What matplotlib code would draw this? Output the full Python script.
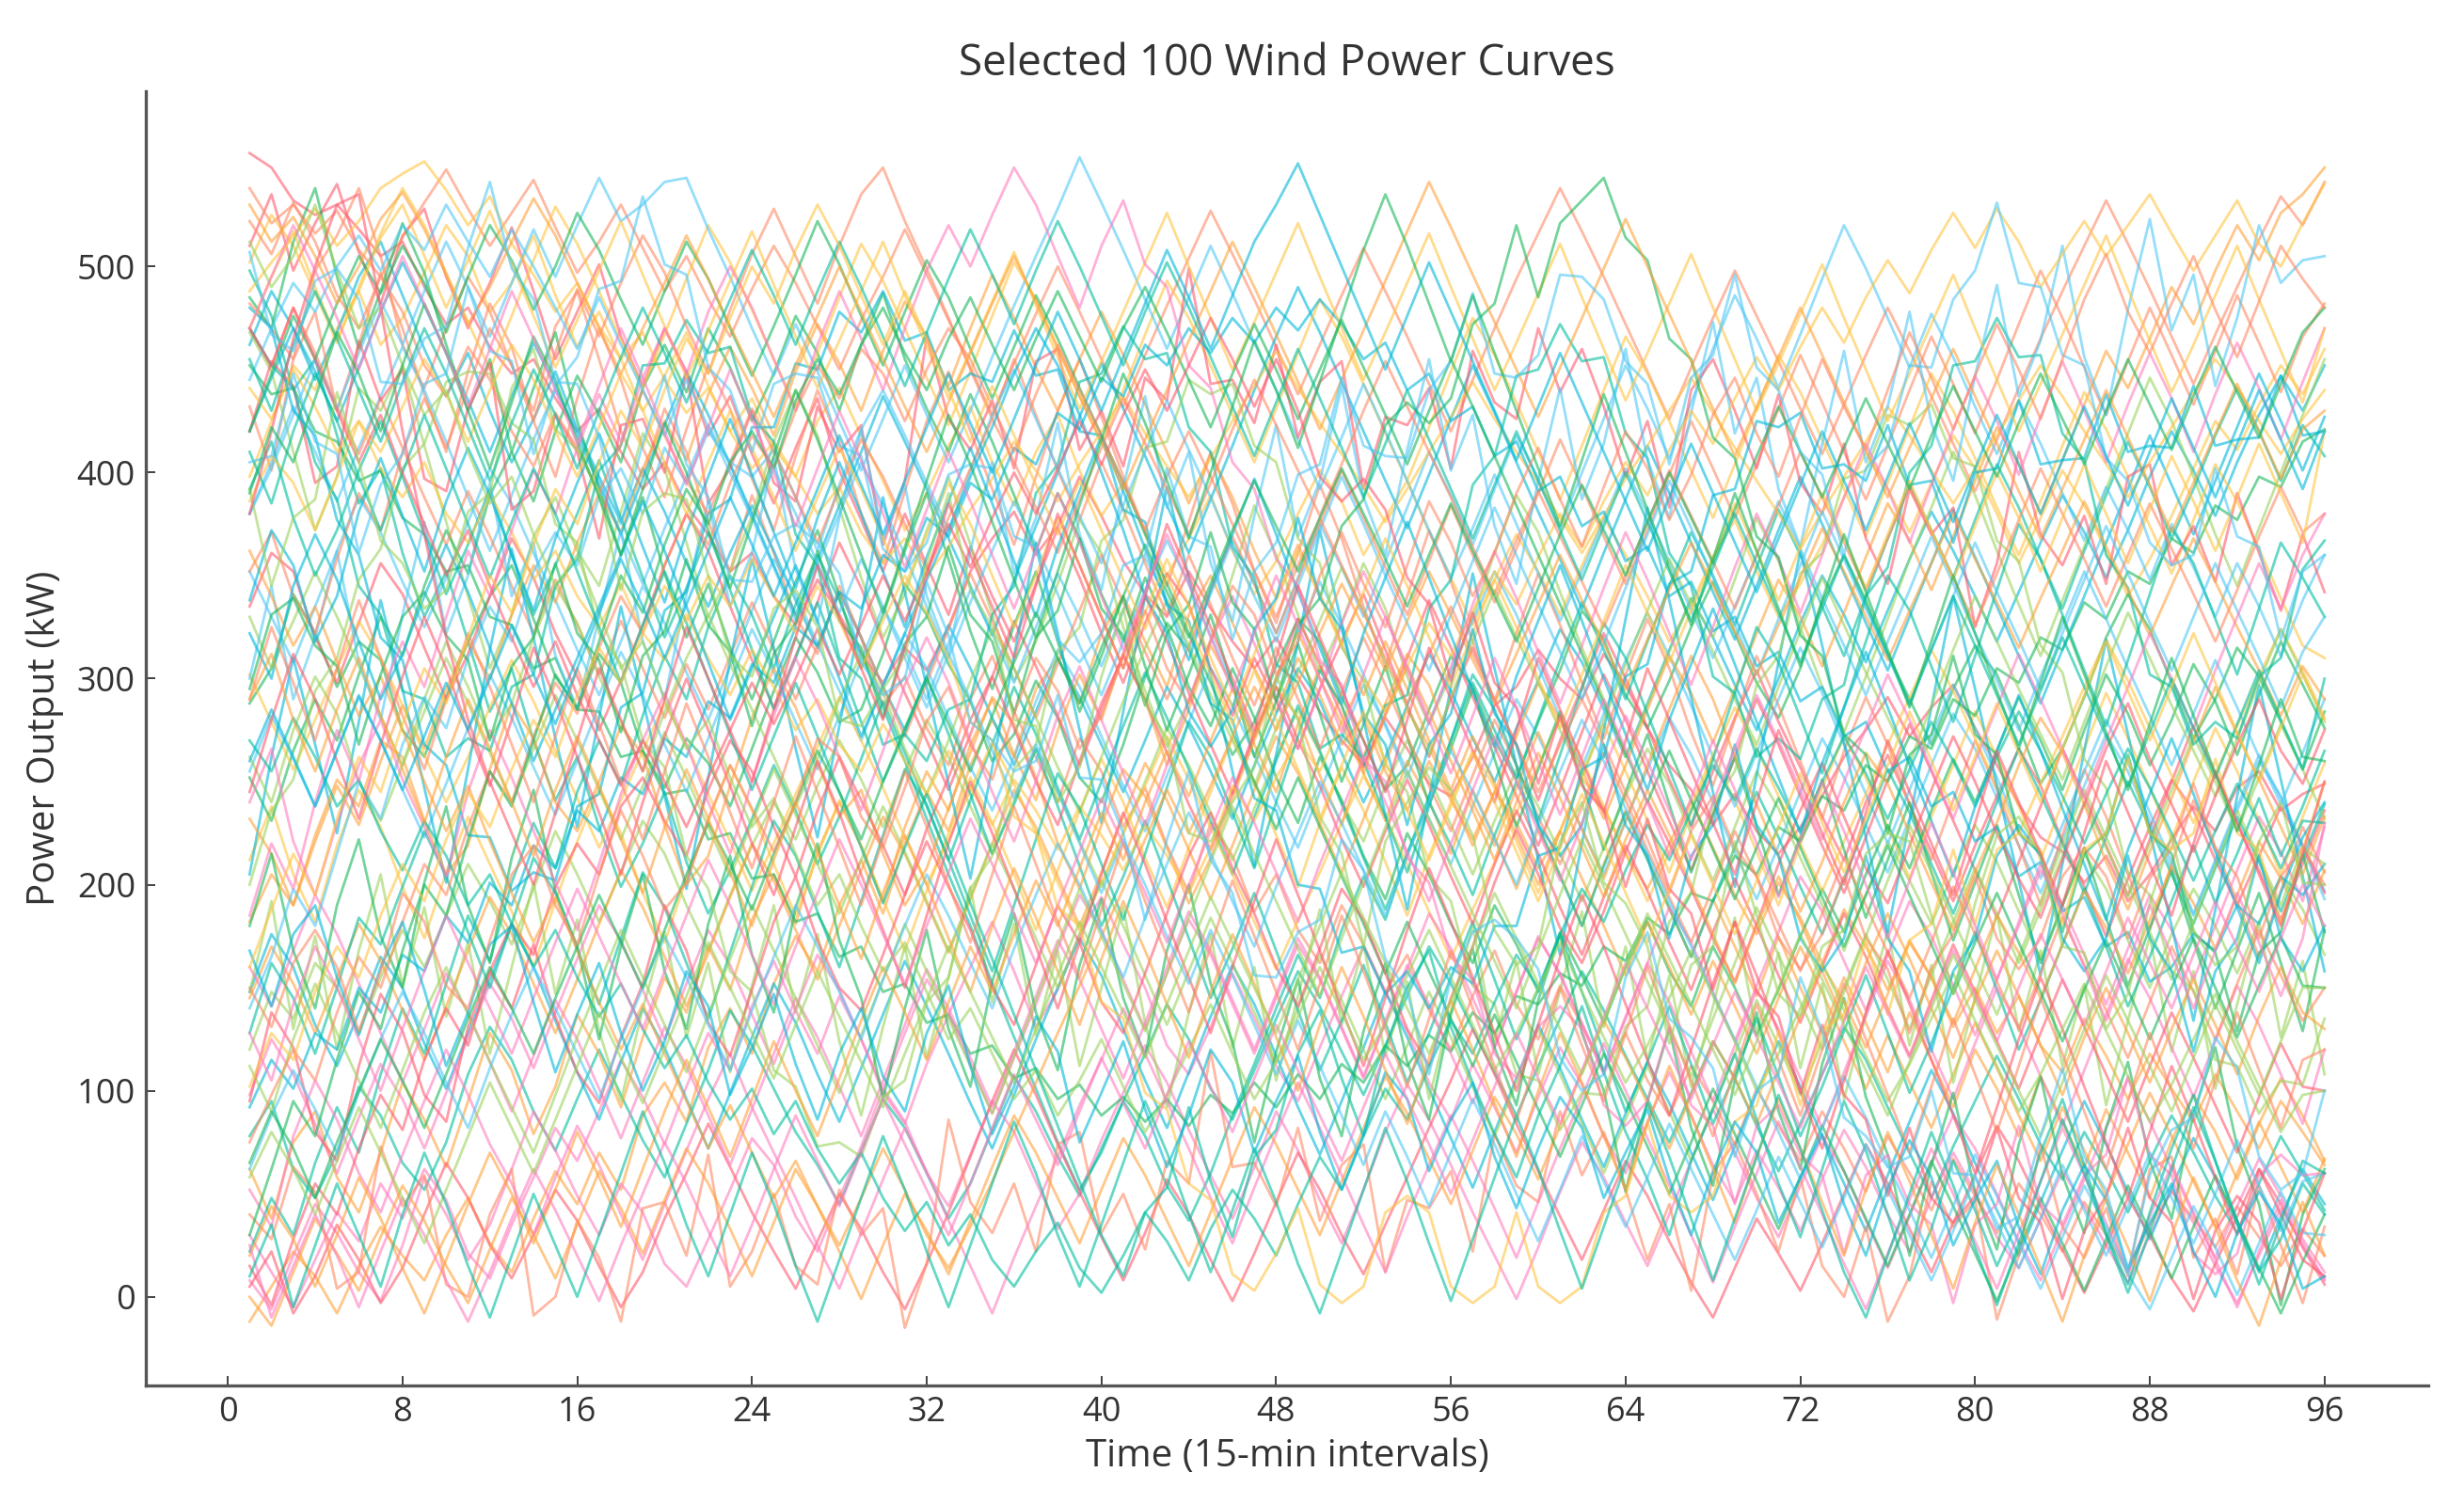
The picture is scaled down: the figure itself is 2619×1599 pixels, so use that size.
import matplotlib
matplotlib.use("Agg")
import matplotlib.pyplot as plt

plt.rcParams['font.family'] = ['Open Sans', 'DejaVu Sans']

# ---- data (kW) ----
time_steps = list(range(1, 97))
x_ticks = [0, 8, 16, 24, 32, 40, 48, 56, 64, 72, 80, 88, 96]
y_ticks = [0, 100, 200, 300, 400, 500]
title_text = "Selected 100 Wind Power Curves"
x_label = "Time (15-min intervals)"
y_label = "Power Output (kW)"

line_colors = ['#FF5A6E', '#FF8A65', '#FFA23A', '#FFC542', '#9CD35C',
               '#19B85A', '#00BFA0', '#00B8D9', '#4FC8F5', '#FF7DBE']

curves_01_10 = [
[555,548,532,525,530,518,505,512,490,472,480,461,448,455,436,420,431,410,392,405,384,370,352,361,340,326,348,331,312,298,315,304,325,352,368,381,360,374,398,379,357,341,330,352,334,318,305,320,301,284,270,258,281,266,249,243,262,287,296,314,300,290,312,297,276,258,246,229,244,226,215,228,243,262,275,291,272,286,297,276,258,239,223,216,201,214,192,205,222,238,226,247,255,236,244,249],
[482,470,455,498,515,538,505,462,441,470,495,478,452,430,471,488,455,420,398,431,410,376,352,389,361,330,312,345,320,287,301,276,258,290,311,284,262,240,271,255,228,247,219,196,230,214,187,205,178,162,190,171,148,166,139,120,146,168,142,125,151,132,110,128,105,88,112,95,74,101,83,66,90,72,51,78,60,42,67,49,31,55,40,22,46,30,12,35,51,38,24,44,29,15,33,20],
[-12,5,22,10,-8,15,34,20,8,30,48,26,12,38,61,45,70,52,88,104,85,121,140,118,152,175,158,190,212,186,220,245,226,258,280,262,295,310,288,322,340,318,296,331,350,327,305,284,310,292,268,281,255,236,260,241,222,245,230,208,226,252,237,215,198,220,241,218,195,176,201,184,162,188,170,149,172,155,131,150,128,146,122,109,135,117,96,118,101,85,108,90,72,95,80,64],
[398,425,452,440,470,488,462,475,497,520,505,478,492,515,486,461,478,455,430,447,468,442,420,436,412,398,425,441,418,396,372,390,413,432,405,384,410,428,401,379,395,372,350,368,389,362,341,357,380,401,386,360,378,396,371,349,326,348,370,352,331,355,378,360,340,318,336,359,377,352,330,346,365,388,410,392,371,395,418,402,380,356,378,401,384,362,340,358,379,402,425,411,433,452,438,460],
[120,148,135,162,150,128,155,178,160,185,210,192,171,198,226,205,182,206,231,215,190,168,195,219,240,222,248,270,251,228,255,280,262,238,215,241,266,245,221,199,225,250,276,258,235,212,237,262,285,264,240,221,248,270,252,229,205,231,256,238,215,192,218,243,266,249,225,202,228,255,237,213,190,168,195,221,202,181,206,229,211,187,164,190,215,198,173,150,176,198,180,157,182,204,188,166],
[288,305,341,322,296,318,309,275,262,291,318,340,355,329,301,286,312,298,265,247,271,259,238,266,294,320,303,279,285,312,346,331,307,289,260,273,299,281,252,240,268,301,327,314,288,263,279,306,329,318,291,270,246,258,285,311,296,270,251,279,304,333,319,292,276,299,325,347,322,298,281,305,337,360,338,312,290,268,295,316,302,277,249,266,291,320,341,324,298,271,290,315,301,279,256,284],
[78,95,62,48,70,102,88,65,52,75,108,131,115,90,71,96,120,98,76,58,84,110,139,122,101,80,64,45,71,96,82,60,38,55,81,107,90,68,49,72,95,118,142,125,101,86,110,135,158,141,119,98,122,146,170,152,130,109,88,112,135,158,139,117,96,75,99,124,106,83,61,84,108,131,115,92,70,48,73,95,117,96,74,57,80,62,41,66,88,70,49,31,55,78,60,42],
[462,488,470,445,468,495,512,486,460,437,458,430,405,426,449,421,398,376,402,381,356,335,361,384,362,338,315,342,320,296,275,301,326,305,281,258,284,310,291,268,245,270,296,277,255,232,258,283,305,289,264,240,262,287,312,294,271,250,276,299,324,308,285,262,288,314,339,320,297,275,300,327,350,331,308,333,358,381,362,340,318,342,366,389,371,349,372,398,420,401,379,405,428,447,430,452],
[352,330,308,335,362,388,371,347,325,349,376,402,385,361,338,314,292,318,345,327,303,280,306,333,358,341,317,294,270,297,322,305,281,257,236,262,289,314,296,272,248,226,253,279,305,287,263,240,218,245,271,297,278,255,232,210,238,264,290,272,249,227,205,231,256,281,263,240,216,193,219,245,271,252,229,206,232,258,283,266,242,219,196,222,248,273,255,231,208,185,211,236,260,243,219,197],
[30,12,-5,18,41,27,55,38,62,47,21,9,35,58,82,66,90,115,97,74,102,128,110,141,163,139,118,146,125,99,84,113,137,160,182,158,131,149,176,194,171,150,122,108,131,157,135,112,95,121,146,170,148,129,104,86,113,92,70,97,121,103,78,60,85,109,88,64,46,71,53,32,57,81,63,40,22,48,70,51,29,14,38,61,44,25,7,30,52,36,15,-3,20,43,26,8],
]

curves_11_20 = [
[510,535,498,521,540,507,482,515,528,495,470,492,519,488,455,478,501,466,442,470,449,418,437,409,385,412,436,401,377,352,380,355,331,364,340,318,346,373,349,322,298,327,351,336,305,282,310,289,266,295,318,341,314,287,262,290,315,289,268,241,270,296,322,300,276,251,228,255,281,304,279,257,233,212,240,263,239,216,192,219,243,266,248,221,199,175,203,228,251,236,212,190,214,238,219,196],
[432,401,455,478,430,462,497,470,438,410,449,482,461,425,398,436,470,445,412,388,421,452,431,397,372,408,440,415,380,356,391,425,449,420,392,365,398,430,455,427,398,371,345,376,410,385,352,327,361,394,368,335,306,340,372,347,318,289,322,351,326,298,271,302,329,305,274,248,280,311,287,260,232,265,291,268,239,212,241,270,246,219,190,224,256,233,205,178,210,241,218,192,165,197,228,206],
[62,38,75,90,58,41,70,104,86,63,95,128,110,79,102,137,118,92,126,155,138,170,149,183,205,181,216,240,219,192,228,255,236,268,290,263,241,275,302,280,312,290,258,285,316,297,268,245,278,306,287,254,231,260,241,215,246,223,198,227,205,180,210,236,213,188,165,193,170,146,175,150,128,155,133,109,138,115,92,120,101,78,107,85,63,91,70,48,76,98,80,57,84,106,88,66],
[212,238,205,182,219,246,228,199,174,206,233,210,187,160,192,221,247,225,196,172,203,231,258,236,210,185,214,241,219,193,168,197,225,252,230,205,178,207,236,261,240,213,189,218,245,271,250,224,199,230,257,236,211,185,214,240,265,247,221,196,226,252,278,255,231,206,235,262,241,216,190,220,247,272,252,228,203,233,258,284,262,238,212,240,266,293,271,247,222,250,276,255,231,205,233,259],
[468,449,410,372,398,441,430,452,413,376,340,305,331,369,388,362,345,381,419,402,366,330,352,379,415,440,418,383,349,320,341,372,398,365,331,299,318,346,377,361,325,294,267,289,318,350,384,360,331,303,327,356,334,301,278,302,330,361,389,371,342,315,290,262,287,313,339,320,348,378,357,325,296,274,301,329,358,383,410,389,362,336,311,338,364,392,419,446,425,398,370,345,373,400,428,455],
[252,231,265,290,270,302,330,311,345,372,351,389,410,386,420,447,428,405,441,462,439,470,451,425,448,476,458,430,462,487,455,431,410,438,415,389,362,390,368,341,318,349,325,296,277,305,281,252,230,262,241,214,193,225,205,181,162,190,171,148,177,156,133,160,182,158,141,170,150,127,149,175,198,177,205,229,208,236,261,240,265,291,270,246,275,302,283,258,280,307,289,263,292,318,297,276],
[498,476,440,455,418,385,402,361,330,352,318,284,305,270,241,262,228,199,220,245,211,186,207,232,258,236,210,233,261,289,264,238,212,241,268,296,273,247,222,250,277,303,281,256,231,205,233,260,287,265,239,213,188,215,243,270,298,275,252,280,309,337,314,290,318,345,371,350,326,354,382,360,335,311,340,368,394,372,349,377,404,383,358,334,362,389,415,393,368,392,418,441,420,396,423,408],
[148,176,160,132,112,138,165,150,123,101,128,154,181,160,134,109,86,114,140,121,96,72,99,126,152,133,108,85,111,137,163,141,118,94,72,98,125,150,174,156,130,105,82,109,136,161,142,117,92,69,95,121,148,126,101,77,53,80,106,132,111,86,63,89,114,94,70,47,73,99,124,102,78,55,32,59,85,110,89,65,42,20,46,71,95,74,51,28,53,77,58,35,13,39,62,45],
[380,405,432,410,386,412,437,461,440,415,388,362,389,416,440,421,397,370,346,373,398,423,404,378,354,328,355,380,405,384,360,335,310,337,362,386,365,341,316,292,318,343,367,346,321,297,272,298,323,347,326,302,277,252,279,304,328,352,331,306,281,257,283,309,332,311,287,262,238,264,290,315,293,268,244,220,246,272,297,276,252,227,203,229,255,280,259,235,211,186,212,238,263,242,218,193],
[8,-6,20,45,31,12,-2,25,58,40,18,35,62,90,71,49,30,55,41,16,5,28,52,77,64,39,22,48,73,101,85,60,44,69,95,80,56,33,50,76,99,122,104,81,59,38,63,90,71,47,26,52,80,103,86,64,41,20,-1,24,51,75,58,36,15,40,66,91,70,48,29,54,78,61,37,14,39,65,88,72,50,27,8,33,57,82,106,85,62,40,19,44,67,49,28,12],
]

curves_21_30 = [
[335,361,352,320,298,327,356,341,315,290,312,340,368,349,322,301,275,299,326,355,380,362,335,309,286,311,337,366,344,318,293,270,246,273,301,328,306,282,258,285,312,340,318,293,268,244,272,300,329,307,282,257,283,310,338,315,291,267,243,219,246,274,302,280,255,231,207,234,262,290,268,243,219,196,223,251,278,255,231,207,184,211,238,266,243,219,195,222,250,277,254,230,207,183,210,236],
[538,521,530,516,527,508,495,514,531,547,528,510,526,542,519,497,512,530,509,488,505,484,466,489,510,492,471,450,474,495,518,496,474,451,428,453,477,500,478,455,432,457,481,504,527,506,484,461,438,462,486,509,488,466,443,420,445,470,494,516,538,517,495,472,449,426,451,475,498,476,454,431,409,433,457,480,459,437,414,391,416,441,465,488,510,532,511,489,466,443,467,490,513,534,520,541],
[182,205,190,221,248,229,260,287,266,295,318,300,331,355,337,366,390,371,402,425,406,438,461,441,418,449,472,453,430,459,483,466,442,470,496,475,451,430,455,478,457,433,410,385,409,388,362,339,365,341,317,292,318,295,270,246,272,249,224,200,226,203,180,156,182,160,137,163,141,118,145,170,148,124,101,127,104,82,108,133,111,88,66,92,71,49,74,99,78,56,34,60,85,63,41,67],
[302,279,256,280,305,328,310,287,263,240,262,286,309,289,265,242,218,241,265,288,268,244,221,197,220,244,267,291,270,247,223,200,222,246,269,249,225,201,178,201,225,248,272,251,228,205,182,159,183,206,230,253,233,210,187,164,188,211,235,258,281,261,238,215,192,216,239,263,286,266,243,220,197,221,244,268,291,314,294,271,248,225,249,272,296,319,299,276,253,230,254,277,301,324,304,281],
[148,192,130,175,120,168,205,151,189,136,172,118,160,201,147,183,129,95,140,177,126,162,109,151,190,138,176,124,88,131,170,116,155,199,143,181,127,168,112,150,189,133,92,138,176,121,160,105,146,188,132,171,117,153,96,139,180,124,163,108,149,187,131,170,115,156,102,141,184,128,167,111,152,96,137,178,122,161,104,145,186,129,168,112,151,93,134,175,119,158,101,142,182,126,163,108],
[452,438,441,420,415,396,401,378,370,352,355,330,326,305,310,285,284,262,265,244,246,222,225,203,205,182,186,165,170,148,152,133,137,118,122,106,111,96,103,88,97,85,96,83,98,89,104,92,108,96,113,104,122,112,127,119,138,128,146,142,157,151,170,163,184,176,196,192,214,205,228,221,243,236,258,250,272,266,290,282,305,298,320,314,337,329,352,346,368,361,384,377,398,393,415,421],
[22,48,30,65,92,70,108,140,118,152,185,163,201,230,208,245,270,249,282,311,290,325,350,331,305,336,360,338,312,286,260,232,205,180,152,126,101,75,52,70,95,78,54,37,60,88,113,140,166,145,178,204,183,215,240,219,195,224,250,229,204,180,209,235,212,189,165,192,218,245,223,199,176,203,229,256,235,210,186,213,240,266,244,220,196,223,250,228,205,181,208,233,211,187,213,239],
[420,446,470,449,425,451,478,502,481,458,435,410,437,463,442,418,394,370,397,423,449,428,404,380,355,331,358,384,410,437,415,392,368,345,321,348,374,400,427,453,431,408,384,361,387,413,440,466,490,468,444,420,396,373,399,426,452,429,405,381,358,334,361,387,413,390,366,342,319,345,372,398,375,351,327,304,330,356,382,359,335,311,288,314,340,366,392,418,394,370,396,422,448,425,401,427],
[255,282,261,238,265,291,270,246,223,249,276,302,281,257,234,260,287,313,292,268,245,271,298,324,303,279,256,282,309,335,314,290,317,343,322,298,325,351,330,306,333,359,338,314,341,367,346,322,349,375,354,330,357,383,410,389,365,392,418,397,373,400,426,452,431,407,434,460,486,465,441,467,494,520,499,475,451,477,456,432,409,435,414,390,367,393,372,348,375,354,330,356,335,311,338,360],
[98,125,108,84,60,87,113,96,72,99,126,152,135,111,138,164,190,173,149,125,152,178,161,137,113,140,166,149,125,101,128,154,137,113,89,116,142,169,195,178,154,130,157,183,166,142,118,145,171,154,130,106,133,159,186,169,145,121,148,174,157,133,109,136,162,189,172,148,124,151,177,204,187,163,139,166,192,175,151,127,154,180,207,190,166,142,169,195,178,154,180,207,233,216,192,228],
]

curves_31_40 = [
[5,22,-8,10,35,18,-3,14,40,65,48,25,9,30,52,37,15,-5,12,38,60,84,63,41,22,4,27,50,33,12,-6,16,41,68,95,120,98,74,51,29,8,31,57,40,18,-2,21,46,70,52,30,11,35,58,82,105,130,108,84,61,39,18,42,66,49,27,7,-10,14,38,21,3,26,50,74,55,33,12,36,59,83,66,44,23,2,25,48,30,9,-7,16,39,62,45,24,6],
[470,451,480,458,432,409,436,412,388,365,391,369,345,322,348,326,302,328,305,281,307,285,311,337,314,290,316,342,320,296,272,298,324,351,328,305,281,307,333,360,337,313,290,316,343,369,346,322,348,375,401,378,354,331,357,384,360,337,363,390,416,393,369,346,372,399,425,402,378,404,431,457,434,410,387,413,440,466,443,419,445,472,498,475,451,428,454,480,457,433,459,486,463,439,466,482],
[145,170,152,128,155,181,163,139,115,141,168,194,176,152,128,154,181,207,189,165,141,167,194,220,202,178,154,180,207,233,215,191,167,193,220,246,228,204,180,206,233,259,241,217,193,219,246,272,254,230,206,232,259,285,267,243,219,245,272,298,280,256,232,258,285,311,293,269,295,322,348,330,306,332,359,385,367,343,369,396,422,404,380,406,433,459,441,465,490,472,498,520,503,526,535,548],
[502,525,510,487,463,490,516,538,520,497,473,450,476,503,529,511,488,464,441,467,494,520,502,479,455,432,458,485,511,493,470,446,423,449,476,502,484,461,437,414,440,467,493,475,452,428,405,431,458,484,466,443,419,396,422,449,475,457,434,410,387,413,440,466,448,425,401,378,404,431,457,439,416,392,369,395,422,448,430,407,383,360,386,413,439,421,398,374,351,377,404,386,363,339,316,310],
[330,305,328,352,330,306,282,258,284,310,288,264,240,266,292,270,246,222,248,274,252,228,204,230,256,234,210,186,212,238,216,192,168,194,220,198,174,150,176,202,180,156,132,158,184,162,138,114,140,166,144,120,96,122,148,126,102,78,104,130,108,84,60,86,112,90,66,92,118,144,122,98,124,150,176,154,130,156,182,208,186,162,188,214,240,218,194,220,246,272,250,226,252,278,256,232],
[485,470,512,538,495,460,488,521,497,462,430,455,410,441,468,425,392,360,388,351,320,346,315,290,318,347,372,340,305,331,362,390,358,323,295,326,352,318,284,311,340,306,275,302,331,297,262,289,317,283,250,278,306,272,239,266,295,261,228,256,284,250,217,245,273,239,206,234,262,228,195,223,251,217,184,212,240,206,173,201,229,195,162,190,218,184,151,179,207,173,140,168,196,162,129,178],
[392,415,378,350,372,401,425,398,370,341,365,392,360,331,355,380,406,378,349,320,344,371,343,314,285,310,337,308,279,250,274,301,273,244,215,239,266,238,209,180,204,231,203,174,145,169,196,168,139,110,134,161,133,104,128,155,182,154,125,149,176,148,119,90,114,141,113,84,108,135,107,78,102,129,156,128,99,123,150,177,149,120,144,171,198,170,141,165,192,219,191,215,242,214,238,265],
[205,262,310,268,225,279,338,295,247,201,256,314,363,320,271,228,281,335,290,243,198,252,309,358,315,266,223,277,331,388,342,296,249,203,257,311,366,322,275,230,284,340,393,349,302,255,209,263,318,372,327,280,234,188,242,296,351,305,258,212,166,220,275,329,383,338,291,245,199,253,308,362,316,269,223,177,231,286,340,295,248,202,156,210,265,319,273,226,180,134,188,243,297,251,204,158],
[380,402,428,455,431,458,483,462,488,512,490,466,492,518,495,520,543,522,530,541,543,518,495,470,447,472,449,425,401,426,452,428,405,430,456,481,505,528,553,531,508,484,460,485,510,487,463,440,416,392,417,443,420,396,372,349,373,399,375,351,328,352,377,402,380,357,333,310,335,360,386,363,339,316,292,318,343,369,346,322,299,275,301,326,352,329,305,282,258,283,309,286,262,239,264,290],
[160,141,168,195,176,152,128,104,130,157,138,114,90,117,144,125,101,77,104,131,112,88,64,91,118,145,126,102,78,105,132,159,140,116,92,119,146,173,154,130,106,133,160,187,168,144,120,147,174,155,131,107,134,161,142,118,94,121,148,175,156,132,108,135,162,143,119,95,122,149,130,106,82,109,136,163,144,120,96,123,150,131,107,83,110,137,164,145,121,97,124,151,132,108,84,120],
]

curves_41_50 = [
[420,454,442,395,403,464,435,450,397,391,431,453,382,391,428,410,368,423,426,400,449,385,402,430,395,386,432,410,423,365,396,466,426,411,435,402,454,460,411,430,403,446,435,499,443,445,424,462,417,444,454,392,427,423,441,402,459,434,426,470,439,460,432,398,425,383,440,455,430,402,438,395,380,414,368,346,392,370,383,325,356,410,370,355,379,346,398,404,355,374,347,390,361,333,370,342],
[40,28,63,51,4,12,73,44,59,6,0,40,62,-9,0,37,19,-12,43,46,20,69,5,22,50,15,6,52,30,43,-15,16,86,46,31,55,22,74,80,31,50,23,66,55,119,63,65,44,82,37,64,74,12,47,43,61,22,79,54,46,90,59,80,52,18,45,3,60,75,50,22,58,15,0,34,-12,10,56,34,47,-11,20,74,34,19,43,10,62,68,19,38,11,54,25,-3,34],
[232,215,190,224,251,238,270,262,231,205,219,256,288,271,240,226,250,277,263,229,200,214,248,281,305,286,259,233,246,215,190,208,237,264,291,278,252,220,198,229,256,243,218,191,213,242,270,296,281,253,229,262,288,312,297,268,240,219,247,274,250,227,203,231,258,285,311,290,262,239,214,187,211,240,264,249,225,201,178,206,230,258,281,264,239,211,188,216,242,270,296,273,251,228,205,233],
[488,502,515,528,510,522,538,545,551,537,520,534,511,496,478,492,471,455,468,445,429,441,420,402,415,398,380,393,371,356,368,350,364,382,397,415,401,386,404,420,437,419,403,388,407,425,442,459,441,424,409,393,376,392,410,427,444,426,410,395,378,361,379,397,413,430,446,429,412,396,380,363,381,398,415,432,418,401,385,402,418,435,452,437,420,404,388,405,422,439,455,441,425,409,426,440],
[262,240,275,301,283,250,231,258,290,318,296,271,288,320,345,327,301,279,255,284,310,331,307,285,262,238,261,290,312,293,266,244,270,299,324,305,281,257,235,262,289,315,338,316,292,270,248,276,303,328,354,333,308,286,263,291,318,343,320,298,275,253,280,307,333,358,336,313,290,268,296,323,349,326,303,281,259,287,314,340,318,295,273,251,279,306,332,310,287,265,243,271,298,324,302,279],
[180,215,168,140,190,222,175,150,201,238,190,162,213,246,197,170,125,170,205,158,130,181,214,166,138,189,220,173,145,96,140,178,130,102,153,186,138,110,161,193,145,117,168,200,152,124,75,119,154,106,78,129,162,114,86,137,169,121,93,144,176,128,100,51,95,130,82,54,105,138,90,62,113,145,97,69,20,64,99,51,23,74,107,59,31,82,114,66,38,89,121,73,45,-4,40,62],
[470,452,441,405,387,345,331,294,290,262,271,265,296,302,345,358,401,413,452,453,474,458,461,427,415,370,355,310,300,268,273,260,285,290,331,345,390,404,444,448,471,455,458,422,410,364,349,307,298,266,273,261,287,292,334,348,394,408,447,450,472,454,456,419,407,361,345,301,293,262,271,261,290,297,340,354,400,413,452,454,475,456,457,419,406,360,344,302,296,268,279,271,301,310,353,367],
[92,115,101,128,120,150,138,166,158,185,172,201,190,219,208,236,226,252,244,271,262,289,281,307,298,325,316,342,334,360,352,378,369,395,387,412,404,429,421,446,437,462,452,470,458,475,463,480,469,484,472,455,463,440,448,425,432,408,415,391,398,374,381,357,364,340,347,323,330,306,313,289,296,272,279,255,262,238,245,221,228,204,211,187,194,170,177,153,160,176,168,190,181,204,195,210],
[300,345,290,320,362,308,280,331,376,322,350,395,340,366,311,285,330,372,318,290,341,386,335,361,407,353,327,378,421,368,394,340,312,362,405,351,378,424,370,343,393,437,383,410,356,328,379,423,369,396,442,388,360,411,455,401,428,374,346,396,441,387,414,460,406,378,429,473,419,446,392,364,414,459,405,432,478,424,396,447,491,437,464,510,456,428,479,523,469,496,442,475,520,492,503,505],
[52,34,78,105,86,60,41,69,95,120,98,74,55,30,58,83,64,40,18,45,71,96,118,92,70,48,25,4,31,57,82,61,37,15,-8,19,44,68,93,115,140,118,95,72,48,26,53,79,104,82,59,35,12,39,64,88,66,43,19,46,72,97,123,100,77,54,30,7,34,60,85,63,40,16,-6,21,47,72,50,27,4,31,56,82,59,36,12,39,64,41,18,-5,22,47,24,9],
]

curves_51_60 = [
[15,-4,28,55,40,72,98,81,115,140,122,158,181,166,199,220,205,238,252,231,214,246,270,255,228,204,236,262,241,219,195,227,252,280,301,276,250,229,260,288,311,290,264,239,217,245,274,296,270,248,222,199,226,251,229,204,181,210,236,215,189,166,194,219,197,172,149,177,203,180,156,133,160,186,165,140,117,144,171,148,124,101,128,154,131,108,85,112,138,116,93,70,97,123,102,100],
[352,371,340,322,358,390,372,410,436,412,441,470,452,425,458,489,466,492,515,497,471,448,479,506,528,505,482,510,535,548,522,499,475,450,426,455,428,401,377,405,382,356,331,360,336,310,287,315,290,266,293,320,297,272,248,226,253,280,258,233,210,238,264,241,217,194,172,199,226,204,181,158,186,213,190,167,145,172,199,176,153,130,157,184,161,139,116,143,170,148,125,152,178,156,134,150],
[0,-14,12,38,21,3,29,54,37,15,-3,23,48,30,9,35,61,43,21,47,72,55,33,10,36,62,44,22,-1,25,50,32,11,37,63,88,70,48,26,52,77,59,37,15,41,67,92,74,52,30,56,82,107,89,67,45,71,97,79,57,83,109,134,116,94,72,98,124,106,84,110,136,161,143,121,147,173,155,133,159,185,167,145,171,197,179,157,183,209,191,169,195,221,203,181,207],
[441,426,450,432,410,425,402,388,405,380,366,389,371,348,362,340,325,346,322,309,331,310,292,314,296,275,290,268,255,278,260,244,265,247,229,251,236,217,238,224,207,229,214,196,218,248,231,252,270,255,279,300,284,306,327,311,333,352,336,359,380,364,386,405,389,411,430,414,436,456,440,461,480,463,485,503,487,508,526,509,528,512,490,506,522,505,520,535,516,498,515,532,511,500,521,540],
[200,236,251,294,310,348,363,402,414,444,449,448,424,416,375,366,322,307,270,257,214,198,158,148,110,102,73,75,68,97,105,143,155,198,214,256,268,313,325,367,377,412,415,445,438,443,413,405,368,356,315,299,258,245,204,192,151,142,108,105,81,99,98,131,141,182,196,239,255,297,311,351,361,397,401,428,423,433,407,403,367,357,316,303,261,247,206,195,158,149,115,112,89,105,103,135],
[420,448,476,455,482,505,487,510,492,468,495,520,503,479,500,526,508,484,462,488,512,494,470,447,471,496,522,501,476,452,478,503,485,460,436,461,486,465,441,418,395,370,346,322,298,274,250,227,252,228,204,181,157,182,158,135,112,137,114,91,68,93,118,96,73,50,75,101,79,56,33,58,83,61,38,15,40,66,44,21,-2,23,48,26,3,28,54,32,9,34,59,37,14,-8,17,40],
[128,162,145,118,150,184,171,199,226,204,177,150,181,213,196,169,142,174,206,189,162,135,167,199,231,214,187,160,192,224,256,239,212,185,158,190,222,254,237,210,183,215,247,279,262,235,208,240,272,304,287,260,233,206,238,270,302,285,258,231,263,295,327,310,283,256,229,261,293,325,308,281,254,286,318,350,333,306,279,311,343,375,358,331,304,277,309,341,373,356,329,302,334,366,349,330],
[480,470,430,418,377,360,320,309,268,258,224,223,197,206,202,238,244,286,293,333,342,380,387,422,422,453,450,478,468,488,464,468,440,448,444,469,447,450,420,418,382,376,336,328,288,280,242,236,200,198,167,170,147,158,140,160,152,180,180,214,218,256,262,301,307,346,352,389,392,425,422,429,402,404,396,423,394,396,366,400,402,435,404,406,407,438,410,413,412,442,413,416,417,447,418,420],
[140,165,198,180,215,250,232,268,291,276,310,335,318,352,371,355,388,402,380,412,395,420,405,398,411,388,362,394,421,440,418,395,372,401,428,450,426,402,379,356,384,410,435,411,388,363,340,318,345,372,398,375,350,327,304,331,357,383,360,336,313,290,317,344,370,396,373,349,326,302,329,355,381,358,334,311,287,314,340,366,342,319,295,322,348,374,351,327,304,330,356,333,310,286,313,330],
[240,266,221,195,230,258,280,251,228,204,245,275,252,226,201,178,210,244,270,293,268,240,215,250,282,310,288,262,236,265,297,320,298,270,245,221,250,282,306,280,254,229,258,290,318,340,317,291,266,295,327,352,330,304,278,306,336,362,339,313,288,316,344,371,348,322,297,325,354,380,358,332,360,388,414,392,366,394,421,447,425,399,427,454,430,405,433,458,436,410,438,463,441,416,444,470],
]

curves_61_70 = [
[95,138,121,80,66,112,147,129,98,85,131,158,140,171,136,109,94,126,152,190,168,133,117,149,182,204,173,150,139,166,195,221,199,178,150,132,161,190,172,143,128,157,186,214,235,208,186,160,141,169,198,183,157,130,112,145,170,201,227,205,179,162,187,216,241,220,198,174,153,181,210,236,259,233,208,191,219,246,272,250,225,203,184,212,239,266,288,261,239,216,243,268,290,265,249,275],
[522,506,531,512,486,470,495,478,452,437,461,445,420,403,429,412,390,414,440,418,396,380,405,431,410,388,366,392,416,398,375,353,378,402,426,405,383,361,387,412,436,414,392,370,395,421,445,423,401,379,404,430,454,432,410,388,364,341,367,391,369,347,325,350,376,401,379,357,334,360,384,410,388,366,343,368,393,371,349,326,351,377,402,380,358,335,360,385,363,341,318,343,369,393,371,380],
[362,340,316,335,308,282,301,275,250,226,248,221,196,172,194,168,143,120,142,118,95,72,93,70,48,66,44,25,48,72,52,30,14,34,56,80,104,128,151,175,198,222,246,225,248,272,296,275,298,322,346,325,304,328,352,331,309,288,312,336,360,338,317,295,319,343,366,345,323,302,326,349,373,352,330,309,333,356,380,358,337,315,339,362,386,364,343,321,345,368,347,325,304,282,306,290],
[470,495,517,490,465,488,514,530,505,480,503,527,501,476,451,474,498,522,496,471,446,469,493,517,491,466,441,464,488,512,486,461,436,459,483,507,481,456,431,454,478,502,526,500,475,450,473,497,521,495,470,445,468,492,516,490,465,440,463,487,511,485,460,435,458,482,506,480,455,430,453,477,501,475,450,425,448,472,496,470,445,420,443,467,491,515,489,464,439,462,486,510,484,459,434,470],
[112,90,125,152,128,105,82,110,138,160,137,114,92,70,98,126,152,178,155,132,109,137,164,190,168,145,122,99,127,154,181,158,135,112,89,117,144,171,198,175,152,129,157,184,211,238,215,192,169,146,174,201,228,255,232,209,186,163,140,168,195,222,199,176,153,130,107,135,162,189,166,143,120,148,175,202,229,206,183,160,137,165,192,219,246,223,200,177,154,182,209,236,213,190,218,210],
[295,331,339,316,306,268,302,330,342,321,309,270,306,320,356,322,309,274,311,323,358,326,313,277,312,327,362,328,315,281,317,330,364,331,318,283,320,333,368,334,321,287,322,336,371,337,324,289,326,339,374,387,423,434,424,436,472,482,520,485,521,532,543,514,503,465,455,417,407,369,359,321,311,273,263,225,263,273,311,273,263,225,215,177,215,225,263,225,215,177,167,129,167,177,215,177],
[270,255,281,262,238,251,226,207,231,214,190,205,181,160,178,155,136,152,130,111,127,104,86,101,79,95,72,55,70,48,32,46,25,40,18,5,22,36,14,2,20,41,27,8,33,52,38,20,45,68,52,78,101,86,112,134,118,143,166,150,176,198,182,207,229,212,236,258,241,266,247,226,250,272,254,232,256,279,260,238,262,284,265,243,220,244,266,247,225,202,226,249,230,208,231,230],
[338,372,355,318,340,381,407,379,352,386,412,389,360,333,368,395,419,392,364,337,371,398,426,399,371,344,378,405,380,352,325,359,386,412,385,357,330,364,391,418,391,363,336,309,343,370,397,370,342,315,288,322,349,376,349,321,294,267,301,328,355,328,300,273,246,280,307,334,307,279,252,225,259,286,313,286,258,231,204,238,265,292,265,237,210,183,217,244,271,244,216,189,162,196,223,240],
[62,88,110,91,70,99,125,148,128,104,82,111,137,160,140,118,96,125,150,175,155,132,110,139,165,190,170,148,125,154,180,205,185,162,140,169,195,220,200,177,155,184,210,235,215,192,170,199,225,250,230,207,185,214,240,265,245,222,200,229,255,280,260,237,215,192,170,147,125,102,80,57,82,107,87,64,42,19,44,69,49,26,4,29,54,34,11,-6,19,44,24,1,26,51,31,30],
[185,220,198,240,275,250,292,318,296,330,362,340,372,401,380,412,438,415,446,470,448,478,500,480,455,430,462,488,465,440,470,498,520,500,525,548,530,505,480,510,532,501,490,452,441,405,392,358,345,309,297,261,250,213,201,165,154,118,106,131,141,130,93,83,95,131,93,83,45,83,93,69,59,21,59,69,45,35,-3,35,45,83,45,35,59,69,107,69,59,21,11,21,59,69,59,60],
]

curves_71_80 = [
[245,280,312,290,260,232,268,301,330,305,275,248,280,315,290,262,235,205,240,272,300,275,248,220,195,228,260,235,205,178,150,185,220,250,225,198,170,140,172,205,235,210,182,155,128,160,192,222,195,168,140,112,145,178,208,182,155,128,100,132,165,195,170,142,115,88,120,152,182,156,128,100,72,105,138,168,142,115,88,60,92,125,155,130,102,75,48,80,112,86,58,30,62,40,18,10],
[75,98,120,105,138,165,150,182,210,195,228,255,240,272,298,283,315,340,322,355,380,365,395,418,402,430,452,436,460,448,425,450,470,455,432,410,438,462,440,418,395,372,398,420,398,375,352,330,355,378,355,332,310,288,312,335,312,290,268,245,268,290,268,245,222,196,226,243,218,204,174,159,176,204,174,159,128,159,176,204,174,159,174,204,218,204,174,203,218,249,218,204,174,204,218,200],
[20,44,28,5,30,58,38,14,-8,18,45,70,50,26,52,80,58,34,62,90,115,92,68,96,124,100,78,106,134,160,138,115,143,170,148,176,202,180,208,235,212,240,265,243,270,295,272,300,322,300,278,254,282,306,284,260,236,212,240,264,242,218,194,222,246,224,200,176,152,180,204,182,158,134,162,186,164,140,116,144,168,146,122,98,126,150,128,104,130,154,132,108,136,160,138,130],
[386,408,395,372,398,425,410,432,455,438,415,440,462,445,420,398,422,448,430,405,380,405,430,412,388,362,388,412,392,368,345,370,395,375,350,325,350,378,355,330,305,332,358,335,310,286,312,338,362,340,316,342,368,345,320,296,322,348,325,300,276,302,328,355,332,308,333,358,385,362,338,364,390,368,344,370,396,372,348,374,400,378,352,378,404,380,356,382,408,386,362,388,414,390,366,420],
[512,490,505,530,498,470,480,452,428,440,410,385,398,370,345,360,332,305,318,290,266,280,252,228,242,215,190,205,180,158,172,148,125,140,118,96,110,88,105,125,102,80,98,120,142,118,96,114,136,160,138,115,132,156,178,155,132,110,128,150,172,148,126,104,122,145,168,146,124,100,118,140,162,139,117,95,113,135,157,134,112,90,108,130,152,129,107,85,103,125,147,124,102,80,98,100],
[30,62,95,78,115,148,130,168,200,185,222,255,238,270,302,285,318,350,332,365,392,375,405,420,402,435,455,438,462,480,458,440,465,485,462,440,465,488,466,444,470,490,468,445,422,448,472,450,426,450,474,451,428,404,430,455,432,408,384,360,336,312,288,264,240,265,241,217,193,218,242,218,194,170,195,219,195,171,147,172,196,172,148,124,149,173,149,125,150,174,150,126,151,175,151,150],
[410,385,420,448,425,398,372,400,428,402,375,349,376,402,380,352,325,298,326,352,327,300,273,246,272,298,272,245,218,191,218,244,218,191,164,137,110,83,56,30,10,41,53,92,56,29,68,81,118,139,106,78,121,150,168,131,104,79,58,88,112,141,109,80,57,30,66,91,118,86,55,29,62,95,71,40,8,33,66,42,15,38,70,96,64,31,6,41,72,98,66,37,12,28,55,40],
[322,300,345,370,348,318,290,312,340,365,342,315,288,260,285,310,335,360,386,362,335,308,280,305,330,355,328,300,272,296,322,348,372,398,422,448,470,452,428,400,372,340,322,284,267,285,324,339,378,339,324,283,268,229,268,283,324,283,268,229,214,229,268,229,214,174,214,229,268,229,214,174,158,174,214,174,158,119,158,174,214,229,214,174,158,174,214,174,158,119,158,174,214,174,158,180],
[445,470,492,478,500,515,498,520,508,530,512,495,518,500,480,460,485,462,440,418,445,422,400,378,402,380,356,332,358,335,310,286,312,290,265,242,268,245,220,196,222,200,175,152,178,156,132,108,134,112,88,64,90,68,44,70,96,74,50,27,52,78,56,34,58,84,62,40,18,42,68,46,24,48,74,52,30,8,32,58,36,14,38,64,42,20,44,70,48,26,50,76,54,32,56,60],
[128,105,142,170,150,125,100,130,158,185,162,140,118,145,172,198,175,152,130,158,185,212,190,166,142,170,196,222,200,176,152,180,206,232,210,186,162,190,216,242,220,196,172,200,226,252,230,206,182,210,236,262,240,216,192,220,246,272,250,226,202,230,256,282,260,236,212,240,266,292,270,246,222,250,276,302,280,256,232,260,286,312,290,266,242,270,296,322,300,276,304,330,356,334,360,380],
]

curves_81_90 = [
[470,452,480,455,430,405,428,400,375,350,372,345,320,296,318,292,270,248,270,250,228,252,275,298,278,300,324,302,326,350,328,352,375,354,378,400,380,402,425,404,428,450,430,452,475,455,432,455,430,398,386,397,382,349,336,299,332,298,286,249,282,248,236,199,232,198,186,149,182,148,136,99,132,98,86,49,82,48,36,49,82,48,36,-1,32,49,82,48,36,-1,32,49,36,-1,32,60],
[290,325,298,270,305,338,310,282,256,290,322,296,268,240,272,305,278,250,222,255,288,262,235,208,240,272,245,218,190,222,255,228,200,172,205,238,210,182,155,188,220,192,165,138,170,202,175,148,120,152,185,158,130,102,135,168,140,112,85,118,150,122,95,128,160,132,105,78,110,142,115,88,120,152,125,98,70,102,135,108,80,112,145,118,90,62,95,128,100,72,105,138,110,82,115,120],
[530,512,524,505,482,500,523,536,518,496,472,490,512,533,515,492,470,448,470,492,515,494,471,449,427,452,476,500,478,455,432,410,434,458,482,505,483,460,437,415,392,416,440,464,488,512,490,467,444,421,445,469,493,517,541,519,496,473,450,427,451,475,499,523,500,477,454,431,408,432,456,480,457,434,411,388,412,436,460,437,414,391,368,392,416,440,417,394,371,395,419,443,420,397,421,430],
[102,128,115,148,170,155,185,210,192,222,245,228,256,280,262,292,315,298,322,345,328,350,335,358,340,322,345,328,305,328,350,332,310,279,270,233,225,189,180,143,135,99,91,55,47,11,3,21,43,6,-3,5,41,49,41,5,-3,5,41,5,-3,5,41,49,85,49,41,49,85,93,129,93,129,137,173,137,173,181,217,181,217,225,217,181,217,225,261,225,217,225,261,225,217,181,217,250],
[392,345,378,387,439,405,367,356,334,343,381,390,441,460,421,411,390,343,381,390,387,350,311,301,334,343,325,280,277,295,311,356,390,343,325,280,277,240,257,301,334,288,271,225,221,240,257,301,280,233,215,170,221,240,257,246,224,178,161,170,221,240,201,191,170,123,161,170,221,185,147,136,170,178,215,225,221,185,147,191,224,233,215,170,167,130,147,191,224,178,161,170,221,240,201,200],
[65,90,72,48,75,100,125,105,82,108,135,160,140,118,145,170,195,172,150,178,205,230,210,188,215,240,265,245,222,250,276,300,278,255,282,308,332,310,288,315,340,365,342,320,346,372,396,374,352,378,402,380,358,335,360,385,362,340,318,344,370,394,372,350,376,400,378,356,382,408,432,410,388,412,436,414,392,418,442,420,398,424,448,426,404,430,455,433,411,437,461,439,417,443,468,480],
[455,430,462,488,465,440,415,444,470,448,422,396,424,450,428,402,430,456,480,458,434,460,484,508,486,462,488,512,490,466,442,468,494,518,496,472,498,522,500,476,452,478,502,480,456,432,408,434,460,436,412,388,414,440,416,392,368,394,420,396,372,348,374,400,376,352,328,354,380,356,332,308,334,360,336,312,288,314,340,316,292,268,294,320,296,272,248,274,300,276,252,278,304,280,256,300],
[168,141,176,190,155,127,160,182,149,112,138,171,180,143,109,137,162,128,100,124,158,141,98,121,147,113,86,118,140,107,90,128,151,112,79,102,136,119,75,99,124,91,63,88,120,104,70,95,117,80,52,79,109,96,61,86,104,68,43,72,97,82,48,70,91,57,30,61,85,70,36,58,79,45,20,53,76,58,25,47,66,34,11,42,64,47,14,36,55,22,0,31,51,35,4,10],
[405,408,448,415,409,361,394,409,443,448,490,459,454,409,442,456,489,493,534,501,496,451,440,410,443,448,446,413,408,363,352,366,399,404,402,369,364,319,308,322,355,360,402,369,364,319,352,366,399,404,446,413,408,407,440,454,487,448,446,457,496,495,484,454,443,404,446,457,496,451,440,410,399,360,402,413,452,451,484,498,531,492,490,457,452,407,396,366,355,360,402,369,364,319,352,360],
[25,-10,15,40,20,-5,22,48,30,8,-12,12,38,62,42,20,-2,25,50,75,55,32,10,35,62,88,66,44,70,96,74,52,30,55,82,108,86,64,90,116,94,72,98,124,102,80,106,132,110,88,66,92,118,96,74,50,76,102,128,106,84,110,136,162,140,118,96,122,148,126,104,82,108,134,160,138,116,142,168,146,124,150,176,154,132,158,184,162,140,166,192,170,148,174,200,180],
]

curves_91_100 = [
[380,420,465,500,530,535,480,420,370,320,280,250,225,200,235,270,305,280,255,290,325,300,275,250,285,320,355,330,305,280,315,350,385,360,335,310,345,380,355,330,305,340,375,350,325,300,275,310,345,320,295,270,245,280,315,290,265,240,275,310,285,260,235,270,305,280,255,230,205,240,275,250,225,200,235,270,245,220,195,230,265,240,215,190,225,260,235,210,185,220,255,230,205,180,215,250],
[150,131,162,178,160,129,158,196,182,151,140,173,205,219,190,171,205,236,214,188,201,232,258,237,216,240,271,262,233,218,247,279,296,268,251,283,310,294,266,282,311,333,305,288,319,345,331,302,318,350,371,346,325,355,386,366,340,361,390,412,387,364,393,420,402,377,399,428,446,419,398,427,455,432,411,440,468,446,421,447,472,450,426,455,484,506,478,458,482,505,479,456,483,510,494,480],
[290,312,280,255,285,310,282,256,230,262,290,266,240,214,246,272,248,222,196,228,256,232,206,180,212,240,216,190,164,196,224,200,174,148,180,208,184,158,132,164,192,168,142,116,148,176,152,126,100,132,160,136,110,84,116,144,120,94,68,100,128,104,78,52,84,112,88,62,36,68,96,72,46,20,52,80,56,30,4,36,64,40,14,-12,20,48,24,-2,30,58,34,8,-14,18,46,20],
[160,188,215,195,232,262,245,278,305,288,320,350,332,365,392,375,405,430,412,440,465,448,475,500,482,508,530,510,486,462,488,465,440,415,442,418,394,370,396,372,348,324,350,326,302,278,304,280,256,232,258,284,260,236,212,238,264,240,216,192,218,244,220,196,172,198,224,200,176,202,228,254,230,206,232,258,284,260,236,262,288,264,240,266,292,318,294,270,296,322,298,274,250,276,302,280],
[58,80,62,40,66,92,70,48,26,52,78,104,82,60,86,112,138,116,94,120,146,172,150,128,106,132,158,136,114,92,118,144,170,148,126,104,130,156,182,160,138,116,142,168,194,172,150,128,154,180,206,184,162,140,118,144,170,196,174,152,130,108,134,160,186,164,142,120,98,124,150,176,154,132,110,88,114,140,166,144,122,100,78,104,130,156,134,112,90,116,142,120,98,124,150,150],
[390,422,405,436,468,448,420,452,482,458,430,402,434,466,445,415,388,360,392,424,400,372,344,376,408,440,416,388,360,332,364,396,428,404,376,348,320,352,384,416,448,424,396,368,400,432,464,440,412,444,476,508,535,510,482,454,486,458,430,402,374,406,438,410,382,354,326,358,390,362,334,306,338,370,342,314,286,318,350,322,294,266,298,330,302,274,246,278,310,282,254,226,258,290,262,260],
[10,35,-5,25,55,30,5,40,70,45,15,-10,20,50,25,0,30,60,90,65,35,10,40,70,45,15,-12,18,48,78,52,22,-5,25,55,85,60,30,5,35,65,95,70,40,12,42,72,46,16,-8,22,52,82,56,26,-2,28,58,88,62,32,4,34,64,94,68,38,8,38,68,98,72,42,12,-10,20,50,80,54,24,-4,26,56,86,60,30,2,32,62,92,66,36,6,36,66,60],
[260,285,262,238,265,292,270,246,272,298,275,300,326,302,278,305,332,358,335,310,336,362,388,365,340,366,392,418,394,370,396,422,448,424,400,426,452,478,455,430,456,482,508,485,460,486,512,530,550,525,500,475,450,476,502,478,454,430,406,432,458,434,410,386,362,388,414,390,366,342,368,394,420,396,372,398,424,400,376,402,428,404,380,406,432,408,384,410,436,412,388,414,440,416,392,420],
[507,467,459,493,499,484,444,443,465,471,509,541,499,484,444,443,417,375,414,447,404,388,348,347,369,375,366,351,308,292,300,347,321,279,270,255,260,292,252,251,225,183,222,255,212,196,156,155,177,183,222,207,164,148,108,155,177,183,174,159,116,100,108,155,177,135,126,111,68,100,108,155,129,87,78,63,68,100,60,59,33,39,78,111,68,52,12,59,81,87,126,111,68,52,60,100],
[470,495,520,498,475,450,478,505,482,458,432,460,488,465,440,414,442,470,446,420,394,422,450,426,400,374,402,430,406,380,354,382,410,386,360,334,362,390,366,340,314,342,370,346,320,294,322,350,326,300,274,302,330,306,280,254,282,310,286,260,234,262,290,266,240,214,242,270,246,220,194,222,250,226,200,174,202,230,206,180,154,182,210,186,160,134,162,190,166,140,168,196,172,146,174,230],
]

all_curves = (curves_01_10 + curves_11_20 + curves_21_30 + curves_31_40 +
              curves_41_50 + curves_51_60 + curves_61_70 + curves_71_80 +
              curves_81_90 + curves_91_100)

bad = [(i + 1, len(c)) for i, c in enumerate(all_curves) if len(c) != len(time_steps)]
assert not bad, f"wrong lengths: {bad}"

# ---- figure ----
fig = plt.figure(figsize=(26.19, 15.99), dpi=100)
ax = fig.add_axes([0.0592, 0.0788, 0.9263, 0.8605])

for i, vals in enumerate(all_curves):
    ax.plot(time_steps, vals, color=line_colors[i % len(line_colors)],
            linewidth=2.0, alpha=0.6)

ax.set_xlim(-3.75, 100.75)
ax.set_ylim(-43, 585)
ax.set_xticks(x_ticks)
ax.set_yticks(y_ticks)

for side in ['top', 'right']:
    ax.spines[side].set_visible(False)
for side in ['left', 'bottom']:
    ax.spines[side].set_linewidth(2.4)
    ax.spines[side].set_color('#555555')

ax.tick_params(axis='both', direction='in', length=7, width=1.3,
               color='#333333', labelsize=26, labelcolor='#333333', pad=8)

ax.set_title(title_text, fontsize=33, color='#333333', pad=12)
ax.set_xlabel(x_label, fontsize=29, color='#333333', labelpad=6)
ax.set_ylabel(y_label, fontsize=29, color='#333333', labelpad=10)

fig.savefig('out.png', dpi=100)
